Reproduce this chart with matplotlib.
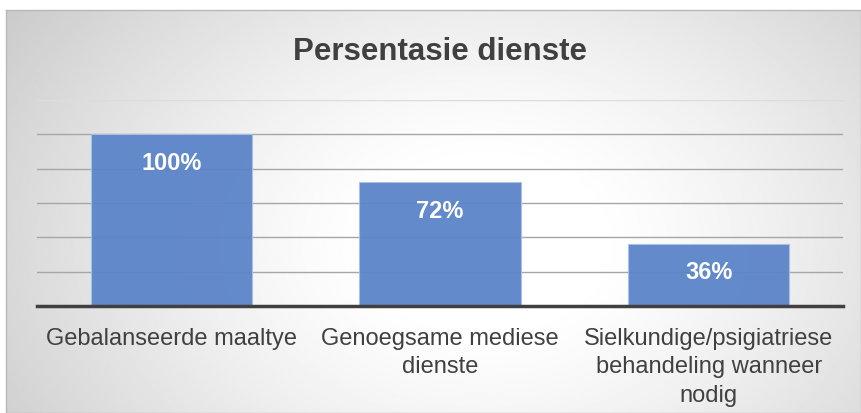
import numpy as np
import matplotlib.pyplot as plt

categories = ['Gebalanseerde maaltye',
              'Genoegsame mediese\ndienste',
              'Sielkundige/psigiatriese\nbehandeling wanneer\nnodig']
values = [100, 72, 36]
value_labels = ['100%', '72%', '36%']
title = 'Persentasie dienste'


def main():
    plt.rcParams['font.family'] = ['Liberation Sans', 'DejaVu Sans']
    fig = plt.figure(figsize=(8.61, 4.14), dpi=100)
    W, H = 861, 414

    # chart area background, radial grey-to-white gradient
    bg = fig.add_axes([6 / W, 0, 855 / W, 403 / H])
    yy, xx = np.mgrid[0:1:300j, 0:1:600j]
    d = np.sqrt(((xx - 0.56) / 0.62) ** 2 + ((yy - 0.42) / 0.95) ** 2)
    shade = 1 - 0.24 * np.clip(d - 0.2, 0, 1.0) ** 1.3
    bg.imshow(shade, cmap='gray', vmin=0, vmax=1, aspect='auto',
              extent=[0, 1, 0, 1], origin='lower')
    bg.set_xticks([])
    bg.set_yticks([])
    for s in bg.spines.values():
        s.set_color('#b8b8b8')
        s.set_linewidth(1)

    ax = fig.add_axes([37 / W, 1 - 307 / H, 806 / W, 206 / H])
    ax.set_facecolor('none')
    x = np.arange(len(categories))
    ax.bar(x, values, width=0.6, color='#5b84c8', edgecolor='#a9c0e8',
           linewidth=0.8, alpha=0.95, zorder=3)
    ax.set_xlim(-0.5, len(categories) - 0.5)
    ax.set_ylim(0, 120)
    ax.set_yticks(np.arange(20, 121, 20))
    ax.yaxis.grid(True, color='#a6a6a6', linewidth=1, zorder=0)
    ax.get_ygridlines()[-1].set_color('#dcdcdc')
    ax.tick_params(axis='y', length=0, labelleft=False)
    ax.set_xticks(x)
    ax.set_xticklabels(categories, fontsize=17, color='#404040',
                       linespacing=1.38)
    ax.tick_params(axis='x', length=0, pad=15)
    for s in ['top', 'left', 'right']:
        ax.spines[s].set_visible(False)
    ax.spines['bottom'].set_color('#404040')
    ax.spines['bottom'].set_linewidth(2.5)
    ax.spines['bottom'].set_zorder(4)

    for xi, v, lab in zip(x, values, value_labels):
        ax.annotate(lab, xy=(xi, v), xytext=(0, -20), textcoords='offset points',
                    ha='center', va='center', color='white', fontsize=17,
                    fontweight='bold', zorder=5)

    fig.text(440 / W, 1 - 52 / H, title, ha='center', va='center',
             fontsize=22.5, fontweight='bold', color='#404040')

    fig.savefig('out.png', dpi=100)


if __name__ == '__main__':
    main()
